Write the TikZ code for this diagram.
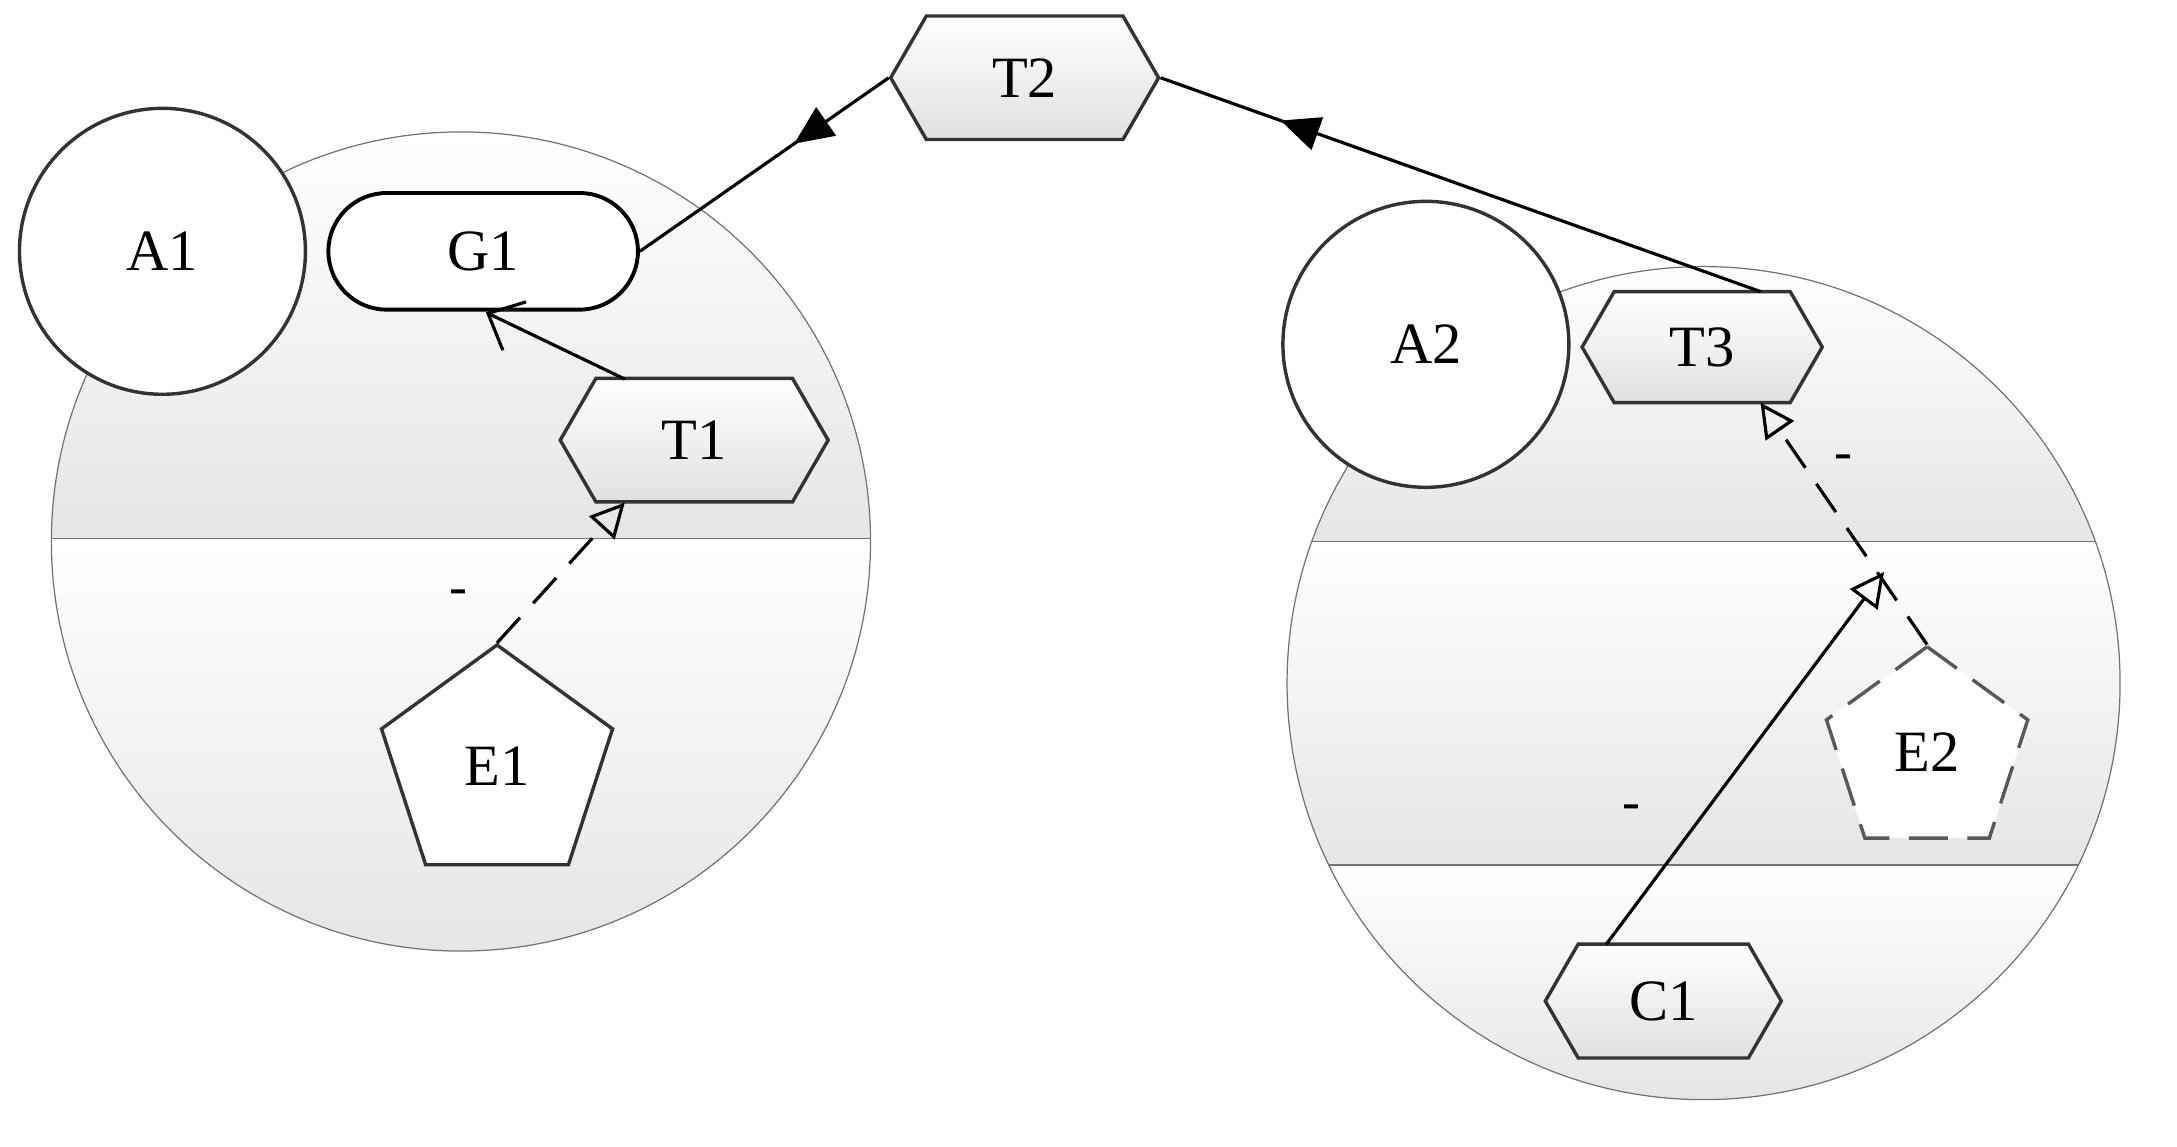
\documentclass[tikz,border=0pt]{standalone}
\usepackage{fontspec}
\setmainfont{Liberation Serif}
\usetikzlibrary{shapes.geometric,shapes.symbols,shapes.misc,arrows.meta,decorations.markings,positioning}
\tikzset{
    agent/.style={circle, draw=black!80, line width=1.4pt, fill=white, minimum size=4.12cm, inner sep=0pt},
    task/.style={signal, signal to=west and east, signal pointer angle=120, draw=black!80, line width=1.4pt,
        top color=white, bottom color=black!12, inner sep=0pt},
    goal/.style={rounded rectangle, draw=black, line width=1.6pt, fill=white, minimum width=4.46cm, minimum height=1.68cm, inner sep=0pt},
    event/.style={regular polygon, regular polygon sides=5, draw=black!80, line width=1.4pt, fill=white, minimum size=3.5cm, inner sep=0pt},
    link/.style={draw=black, line width=1.3pt},
    reads/.style={link, postaction={decorate},
        decoration={markings, mark=at position #1 with {\arrow{Triangle[length=16pt,width=14pt]}}}},
    readsback/.style={link, postaction={decorate},
        decoration={markings, mark=at position #1 with {\arrowreversed{Triangle[length=16pt,width=14pt]}}}},
    opentip/.style={-{Triangle[open,length=14pt,width=14pt,line width=1.3pt]}},
    barb/.style={-{Straight Barb[length=12pt,width=22pt,line width=1.3pt]}},
    minus/.style={font=\fontsize{22}{26}\selectfont}
}
\begin{document}
\begin{tikzpicture}[x=0.02cm, y=-0.02cm, font=\fontsize{24}{28}\selectfont]
\useasboundingbox (0,0) rectangle (1568,826);
% regions
\begin{scope}
  \clip (332,390) circle (295);
  \fill[top color=white, bottom color=black!10] (37,95) rectangle (627,388);
  \fill[top color=white, bottom color=black!10] (37,388) rectangle (627,685);
  \draw[black!55, line width=0.5pt] (37,388) -- (627,388);
\end{scope}
\draw[black!55, line width=0.5pt] (332,390) circle (295);
\begin{scope}
  \clip (1227,492) circle (300);
  \fill[top color=white, bottom color=black!10] (927,192) rectangle (1527,390);
  \fill[top color=white, bottom color=black!10] (927,390) rectangle (1527,623);
  \fill[top color=white, bottom color=black!10] (927,623) rectangle (1527,792);
  \draw[black!55, line width=0.5pt] (927,390) -- (1527,390) (927,623) -- (1527,623);
\end{scope}
\draw[black!55, line width=0.5pt] (1227,492) circle (300);
% nodes
\node[agent] (A1) at (117,181) {A1};
\node[agent] (A2) at (1027,248) {A2};
\node[goal] (G1) at (348,181) {G1};
\node[task, minimum width=3.86cm, minimum height=1.78cm] (T2) at (738,56) {T2};
\node[task, minimum width=3.86cm, minimum height=1.78cm] (T1) at (500,317) {T1};
\node[task, minimum width=3.46cm, minimum height=1.6cm] (T3) at (1226,250) {T3};
\node[task, minimum width=3.4cm, minimum height=1.64cm] (C1) at (1198,721) {C1};
\node[event, yshift=-4] (E1) at (358,545) {E1};
\node[event, draw=black!65, dash pattern=on 16pt off 8pt, minimum size=3.05cm, yshift=-4] (E2) at (1388,535) {E2};
% links
\coordinate (g1foot) at (350,225);
\coordinate (t1top) at (450,273);
\coordinate (t1foot) at (450,362);
\coordinate (t3top) at (1268,210);
\coordinate (t3foot) at (1268,290);
\coordinate (mid) at (1357,412);
\coordinate (c1top) at (1157,680);
\draw[readsback=.62] (G1.east) -- (T2.west);
\draw[reads=.8] (t3top) -- (T2.east);
\draw[link, barb] (t1top) -- (g1foot);
\draw[link, dashed, dash pattern=on 14pt off 8pt, opentip] (E1.corner 1) -- (t1foot);
\draw[link, dashed, dash pattern=on 14pt off 8pt, opentip] (E2.corner 1) -- (t3foot);
\draw[link, opentip] (c1top) -- (mid);
\node[minus] (m1) at (330,430) {-};
\node[minus] (m2) at (1328,333) {-};
\node[minus] (m3) at (1175,585) {-};
\end{tikzpicture}
\end{document}
